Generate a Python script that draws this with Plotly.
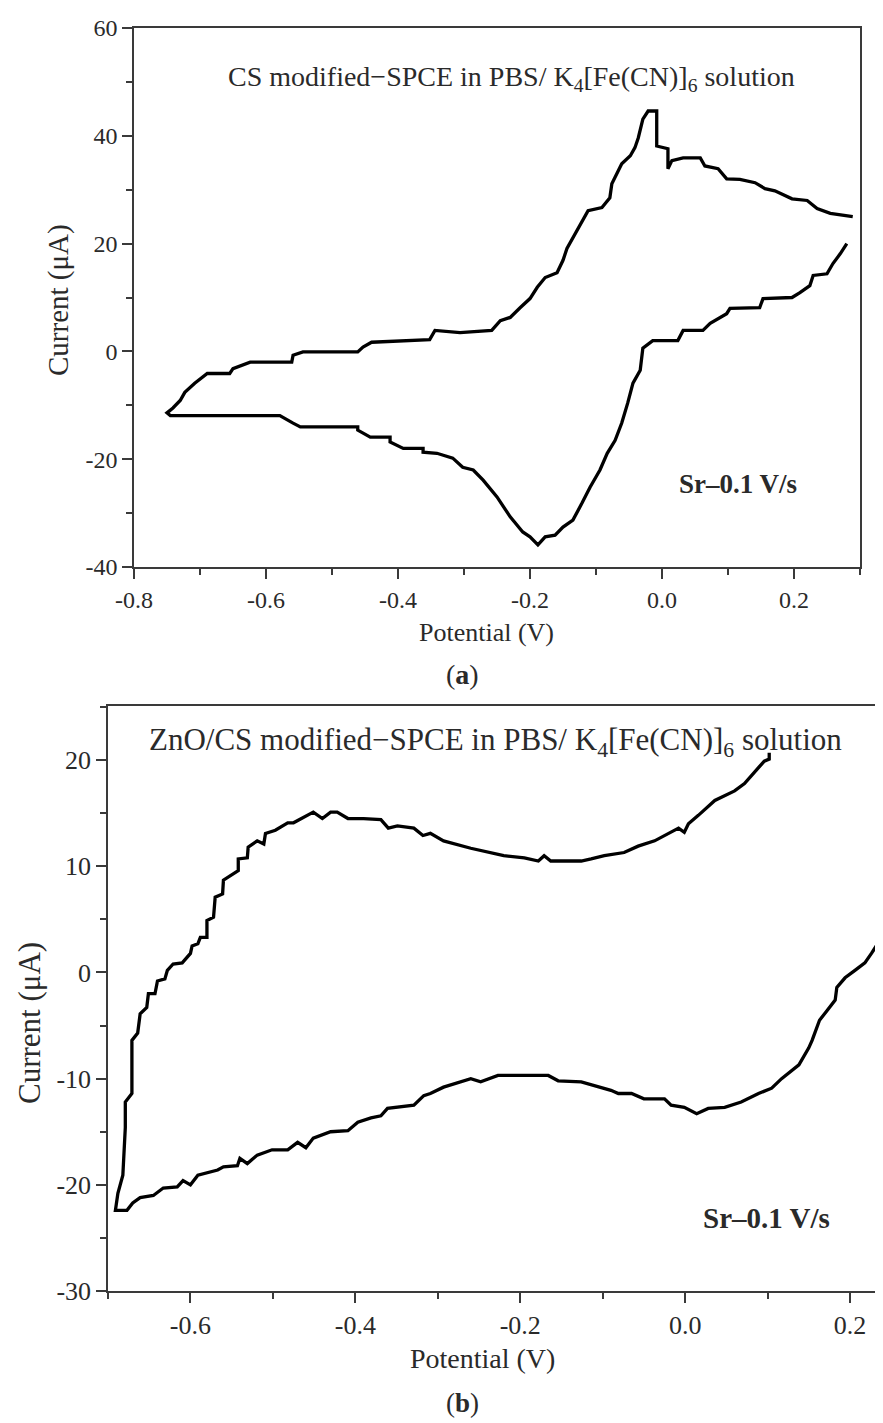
import plotly.graph_objects as go

# page body adds an 8px offset; the figure fills the rest of the 883x1423 window
OFF = 8
W, H = 883 - OFF, 1423 - OFF

# ---------------- Panel (a): CS modified-SPCE ----------------
a_lower_x = [0.280, 0.270, 0.259, 0.250, 0.229, 0.224, 0.209, 0.197, 0.153, 0.148, 0.103, 0.098,
             0.073, 0.062, 0.032, 0.024, -0.014, -0.029, -0.033, -0.044, -0.052, -0.061, -0.071,
             -0.083, -0.094, -0.109, -0.121, -0.135, -0.150, -0.162, -0.177, -0.188, -0.200,
             -0.211, -0.230, -0.250, -0.271, -0.286, -0.302, -0.317, -0.341, -0.362, -0.362,
             -0.392, -0.412, -0.412, -0.442, -0.461, -0.461, -0.548, -0.559, -0.579, -0.745, -0.750]
a_lower_y = [20.0, 18.1, 16.3, 14.4, 14.1, 12.2, 10.9, 10.0, 9.8, 8.1, 8.0, 7.0,
             5.2, 3.9, 3.9, 2.0, 2.0, 0.6, -3.5, -5.9, -9.6, -13.3, -16.5,
             -18.9, -22.0, -25.2, -28.1, -31.3, -32.6, -34.1, -34.4, -35.9, -34.4,
             -33.5, -30.7, -27.0, -23.9, -22.0, -21.5, -19.8, -18.9, -18.7, -18.0,
             -18.0, -16.8, -15.9, -15.9, -14.6, -14.0, -14.0, -13.3, -11.9, -11.9, -11.4]
a_upper_x = [-0.741, -0.730, -0.723, -0.708, -0.689, -0.655, -0.650, -0.624, -0.561, -0.559,
             -0.544, -0.461, -0.453, -0.440, -0.352, -0.344, -0.306, -0.258, -0.245, -0.230,
             -0.215, -0.200, -0.189, -0.177, -0.159, -0.150, -0.144, -0.129, -0.112, -0.091,
             -0.079, -0.076, -0.061, -0.048, -0.041, -0.036, -0.029, -0.021, -0.008, -0.008,
             0.009, 0.009, 0.015, 0.032, 0.058, 0.065, 0.085, 0.098, 0.118, 0.141, 0.156,
             0.171, 0.197, 0.220, 0.235, 0.255, 0.289]
a_upper_y = [-10.5, -9.1, -7.6, -5.9, -4.1, -4.1, -3.2, -2.0, -2.0, -0.7,
             -0.1, -0.1, 0.8, 1.7, 2.2, 3.9, 3.5, 3.9, 5.7, 6.3,
             8.1, 9.8, 11.9, 13.7, 14.6, 16.9, 19.1, 22.4, 26.1, 26.7,
             28.5, 31.1, 34.8, 36.3, 37.8, 39.6, 43.1, 44.6, 44.6, 38.1,
             37.6, 33.9, 35.4, 35.9, 35.9, 34.4, 33.9, 32.0, 31.9, 31.3, 30.2,
             29.8, 28.3, 28.0, 26.5, 25.6, 25.0]

# ---------------- Panel (b): ZnO/CS modified-SPCE ----------------
b_lower_x = [0.242, 0.236, 0.226, 0.218, 0.206, 0.194, 0.184, 0.182, 0.172, 0.163, 0.154, 0.150,
             0.138, 0.117, 0.105, 0.089, 0.068, 0.048, 0.028, 0.014, -0.001, -0.017, -0.025,
             -0.050, -0.065, -0.081, -0.090, -0.105, -0.126, -0.154, -0.166, -0.195, -0.227,
             -0.248, -0.260, -0.293, -0.309, -0.317, -0.329, -0.361, -0.369, -0.381, -0.397,
             -0.409, -0.430, -0.451, -0.460, -0.470, -0.482, -0.501, -0.519, -0.531, -0.540,
             -0.543, -0.560, -0.567, -0.591, -0.600, -0.609, -0.616, -0.633, -0.645, -0.661,
             -0.670, -0.677, -0.691]
b_lower_y = [3.3, 3.0, 1.8, 0.9, 0.2, -0.5, -1.4, -2.6, -3.6, -4.5, -6.4, -7.1,
             -8.7, -10.0, -10.9, -11.4, -12.2, -12.7, -12.8, -13.3, -12.7, -12.5, -11.9,
             -11.9, -11.4, -11.4, -11.1, -10.8, -10.3, -10.2, -9.7, -9.7, -9.7,
             -10.3, -10.0, -10.8, -11.4, -11.6, -12.5, -12.8, -13.5, -13.7, -14.1,
             -14.9, -15.0, -15.6, -16.5, -16.0, -16.7, -16.7, -17.2, -18.0, -17.5,
             -18.2, -18.3, -18.6, -19.1, -20.0, -19.6, -20.2, -20.3, -21.0, -21.2,
             -21.7, -22.4, -22.4]
b_upper_x = [-0.688, -0.682, -0.679, -0.679, -0.671, -0.671, -0.664, -0.661, -0.653, -0.651,
             -0.643, -0.640, -0.631, -0.628, -0.621, -0.610, -0.600, -0.598, -0.591, -0.588,
             -0.580, -0.580, -0.572, -0.570, -0.561, -0.560, -0.552, -0.542, -0.542, -0.531,
             -0.530, -0.519, -0.511, -0.509, -0.497, -0.482, -0.475, -0.458, -0.451, -0.440,
             -0.430, -0.422, -0.409, -0.390, -0.369, -0.360, -0.349, -0.329, -0.318, -0.309,
             -0.293, -0.260, -0.239, -0.220, -0.195, -0.178, -0.171, -0.163, -0.147, -0.126,
             -0.114, -0.098, -0.074, -0.057, -0.037, -0.025, -0.008, -0.001, 0.004, 0.016,
             0.036, 0.060, 0.072, 0.089, 0.096, 0.102, 0.102]
b_upper_y = [-20.8, -19.1, -14.6, -12.2, -11.4, -6.4, -5.7, -3.9, -3.3, -2.0,
             -2.0, -0.8, -0.6, 0.2, 0.8, 0.9, 1.8, 2.5, 2.7, 3.3,
             3.3, 4.9, 5.2, 7.1, 7.4, 8.7, 9.1, 9.6, 10.7, 10.8,
             11.8, 12.4, 12.1, 13.1, 13.4, 14.1, 14.1, 14.8, 15.1, 14.5,
             15.1, 15.1, 14.5, 14.5, 14.4, 13.6, 13.8, 13.6, 12.9, 13.1,
             12.4, 11.7, 11.3, 11.0, 10.8, 10.5, 11.0, 10.5, 10.5, 10.5,
             10.7, 11.0, 11.3, 11.9, 12.4, 12.9, 13.6, 13.2, 14.0, 14.8,
             16.2, 17.1, 17.8, 19.3, 19.9, 20.1, 20.7]

# tick labels
a_xticks = [-0.8, -0.6, -0.4, -0.2, 0.0, 0.2]
a_xtext = ["-0.8", "-0.6", "-0.4", "-0.2", "0.0", "0.2"]
a_yticks = [-40, -20, 0, 20, 40, 60]
a_ytext = ["-40", "-20", "0", "20", "40", "60"]
b_xticks = [-0.6, -0.4, -0.2, 0.0, 0.2]
b_xtext = ["-0.6", "-0.4", "-0.2", "0.0", "0.2"]
b_yticks = [-30, -20, -10, 0, 10, 20]
b_ytext = ["-30", "-20", "-10", "0", "10", "20"]

FONT = "Liberation Serif"
TXT = "#2a2a2a"
AX = "#3a3a3a"


def px(x):
    return (x - OFF) / W


def py(y):
    return 1 - (y - OFF) / H


fig = go.Figure()
fig.add_trace(go.Scatter(x=a_lower_x + a_upper_x, y=a_lower_y + a_upper_y, mode="lines",
                         line=dict(color="black", width=3.3), xaxis="x", yaxis="y",
                         showlegend=False, hoverinfo="skip"))
fig.add_trace(go.Scatter(x=b_lower_x + b_upper_x, y=b_lower_y + b_upper_y, mode="lines",
                         line=dict(color="black", width=3.3), xaxis="x2", yaxis="y2",
                         showlegend=False, hoverinfo="skip"))


def axis_style(size):
    return dict(showgrid=False, zeroline=False, showline=True, linecolor=AX, linewidth=1.5,
                ticks="outside", ticklen=10, tickwidth=1.5, tickcolor=AX, automargin=False,
                tickfont=dict(family=FONT, size=size, color=TXT))


fig.update_layout(
    width=W, height=H, margin=dict(l=0, r=0, t=0, b=0, autoexpand=False),
    paper_bgcolor="white", plot_bgcolor="white",
    xaxis=dict(domain=[px(134), px(860)], range=[-0.8, 0.3], anchor="y", mirror=True,
               tickvals=a_xticks, ticktext=a_xtext,
               minor=dict(ticks="outside", ticklen=6, dtick=0.1, tick0=0, tickcolor=AX, tickwidth=1.5),
               **axis_style(24)),
    yaxis=dict(domain=[py(567), py(28)], range=[-40, 60], anchor="x", mirror=True,
               tickvals=a_yticks, ticktext=a_ytext,
               minor=dict(ticks="outside", ticklen=6, dtick=10, tick0=0, tickcolor=AX, tickwidth=1.5),
               **axis_style(24)),
    xaxis2=dict(domain=[px(108), 1.0], range=[-0.7, 0.24], anchor="y2", mirror=True,
                tickvals=b_xticks, ticktext=b_xtext,
                minor=dict(ticks="outside", ticklen=6, dtick=0.1, tick0=0, tickcolor=AX, tickwidth=1.5),
                **axis_style(26)),
    yaxis2=dict(domain=[py(1291), py(706)], range=[-30, 25.1], anchor="x2", mirror=False,
                tickvals=b_yticks, ticktext=b_ytext,
                minor=dict(ticks="outside", ticklen=6, dtick=5, tick0=0, tickcolor=AX, tickwidth=1.5),
                **axis_style(26)),
)


def ann(text, x, y, size, angle=0):
    fig.add_annotation(text=text, x=px(x), y=py(y), xref="paper", yref="paper",
                       showarrow=False, textangle=angle, xanchor="center", yanchor="middle",
                       font=dict(family=FONT, size=size, color=TXT))


# panel (a) texts
ann("CS modified\u2212SPCE in PBS/ K<sub>4</sub>[Fe(CN)]<sub>6</sub> solution", 511, 78, 28)
ann("<b>Sr\u20130.1 V/s</b>", 738, 484, 27)
ann("Current (\u03bcA)", 58, 300, 29, angle=-90)
ann("Potential (V)", 487, 632, 26)
ann("(<b>a</b>)", 462, 675, 28)

# panel (b) texts
ann("ZnO/CS modified\u2212SPCE in PBS/ K<sub>4</sub>[Fe(CN)]<sub>6</sub> solution", 495, 742, 31)
ann("<b>Sr\u20130.1 V/s</b>", 766, 1218, 29)
ann("Current (\u03bcA)", 29, 1023, 31, angle=-90)
ann("Potential (V)", 483, 1358, 28)
ann("(<b>b</b>)", 462, 1403, 27)

fig.write_html("out.html")
